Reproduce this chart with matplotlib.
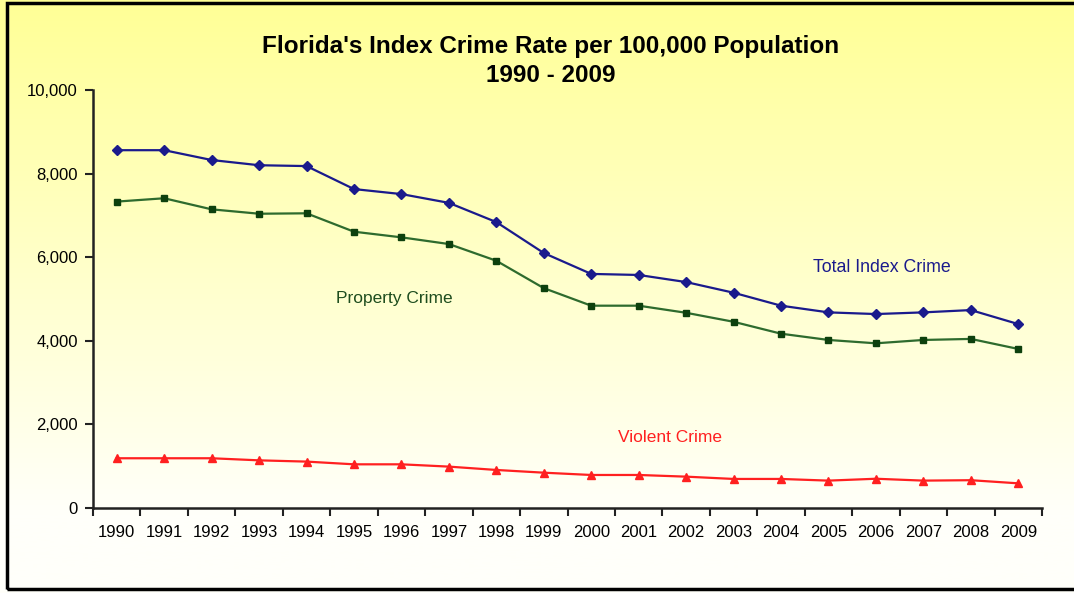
import matplotlib
matplotlib.use("Agg")
import matplotlib.pyplot as plt
import numpy as np
from matplotlib.patches import Rectangle
from matplotlib.ticker import FixedLocator, FuncFormatter

years = [str(y) for y in range(1990, 2010)]
total_index = [8560, 8560, 8325, 8200, 8180, 7630, 7510, 7300, 6840, 6100,
               5600, 5575, 5405, 5150, 4840, 4680, 4640, 4680, 4735, 4400]
property_crime = [7330, 7410, 7145, 7040, 7050, 6610, 6475, 6315, 5915, 5260,
                  4840, 4840, 4670, 4455, 4170, 4020, 3940, 4020, 4045, 3805]
violent_crime = [1190, 1190, 1190, 1140, 1110, 1045, 1045, 990, 910, 845,
                 790, 790, 750, 695, 695, 655, 700, 655, 665, 590]
y_ticks = [0, 2000, 4000, 6000, 8000, 10000]

plt.rcParams['font.family'] = ['Liberation Sans', 'DejaVu Sans']

W, H = 1074, 593
fig = plt.figure(figsize=(W / 100, H / 100), dpi=100)

# gradient background
bg = fig.add_axes([0, 0, 1, 1], zorder=-10)
grad = np.linspace(0, 1, 256).reshape(-1, 1)
top = np.array([255, 255, 150]) / 255
bot = np.array([255, 255, 250]) / 255
t = np.clip(grad * 1.15, 0, 1)
img = top[None, None, :] * (1 - t[:, :, None]) + bot[None, None, :] * t[:, :, None]
bg.imshow(img, aspect='auto', extent=[0, 1, 0, 1], origin='upper')
bg.set_xlim(0, 1)
bg.set_ylim(0, 1)
bg.axis('off')
bg.add_patch(Rectangle((7 / W, 4 / H), 1.2, 1 - 7 / H, fill=False,
                       edgecolor='black', linewidth=2.5, transform=bg.transAxes,
                       clip_on=False))

ax = fig.add_axes([93 / W, (H - 508) / H, (1042 - 93) / W, (508 - 90) / H])
ax.patch.set_alpha(0)
x = np.arange(len(years))

ax.plot(x, total_index, color='#1a1a8c', marker='D', markersize=5, linewidth=1.6)
ax.plot(x, property_crime, color='#2e6b2e', marker='s', markersize=5,
        markerfacecolor='#0d400d', markeredgecolor='#0d400d', linewidth=1.6)
ax.plot(x, violent_crime, color='#ff2020', marker='^', markersize=6, linewidth=1.6)

ax.set_xlim(-0.5, len(years) - 0.5)
ax.set_ylim(0, 10000)
ax.xaxis.set_major_locator(FixedLocator(np.arange(-0.5, len(years), 1.0)))
ax.xaxis.set_minor_locator(FixedLocator(x))
ax.set_xticklabels([])
ax.set_xticklabels(years, minor=True)
ax.tick_params(axis='x', which='major', length=6, width=1.5, direction='out', color='#222222')
ax.tick_params(axis='x', which='minor', length=0, pad=12, labelsize=12)
ax.set_yticks(y_ticks)
ax.yaxis.set_major_formatter(FuncFormatter(lambda v, p: f"{int(v):,}"))
ax.tick_params(axis='y', length=6, width=1.5, direction='out', labelsize=12, pad=5, color='#222222')

for s in ['top', 'right']:
    ax.spines[s].set_visible(False)
for s in ['left', 'bottom']:
    ax.spines[s].set_linewidth(1.8)
    ax.spines[s].set_color('#222222')

fig.text(551 / W, 1 - 47 / H, "Florida's Index Crime Rate per 100,000 Population",
         ha='center', va='center', fontsize=17.5, fontweight='bold')
fig.text(551 / W, 1 - 76 / H, "1990 - 2009", ha='center', va='center',
         fontsize=17.5, fontweight='bold')

ax.text(16.13, 5765, "Total Index Crime", color='#1a1a8c', fontsize=12.8, ha='center', va='center')
ax.text(5.84, 5000, "Property Crime", color='#1e4d1e', fontsize=12.5, ha='center', va='center')
ax.text(11.66, 1675, "Violent Crime", color='#ff2020', fontsize=12.5, ha='center', va='center')

fig.savefig("out.png", dpi=100)
